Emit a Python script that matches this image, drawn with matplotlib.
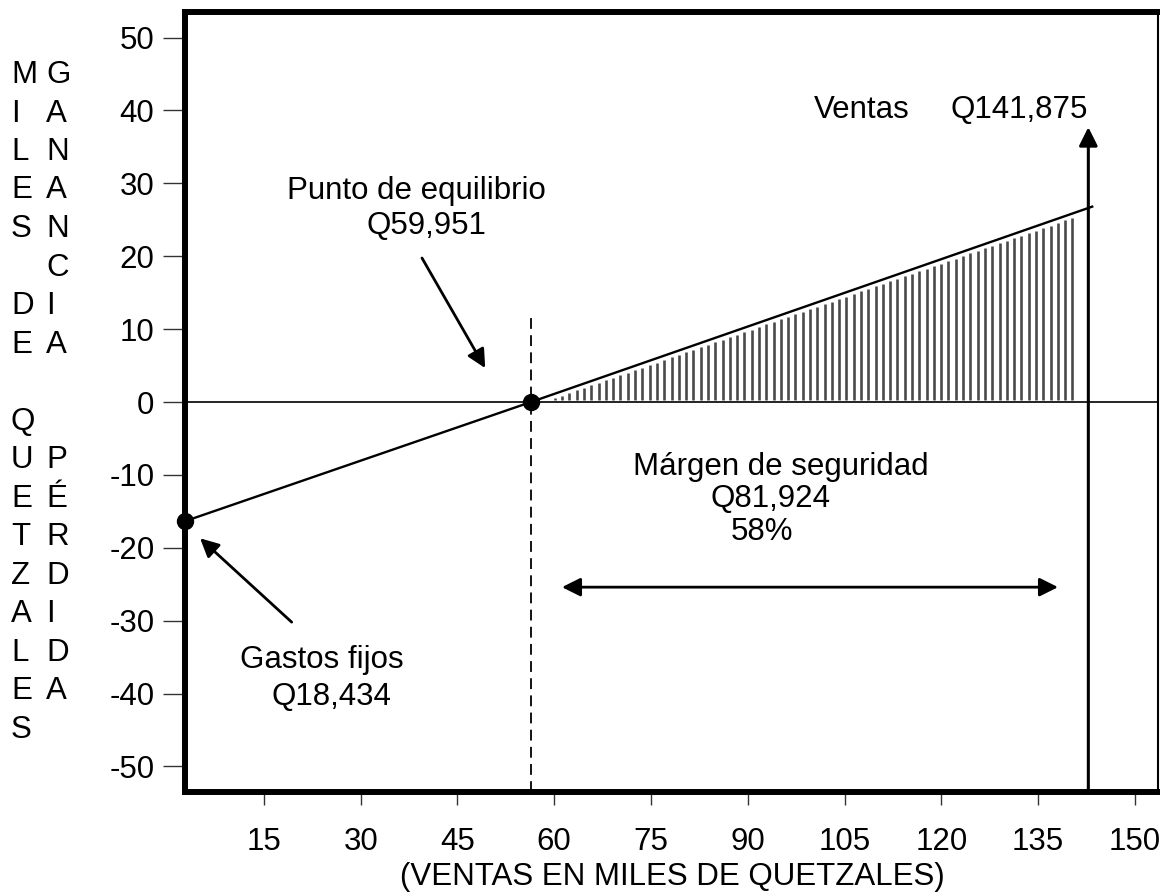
import matplotlib
matplotlib.use("Agg")
import matplotlib.pyplot as plt
import numpy as np

plt.rcParams['font.family'] = ['Liberation Sans', 'DejaVu Sans']

# ticks
x_ticks = [15, 30, 45, 60, 75, 90, 105, 120, 135, 150]
y_ticks = [50, 40, 30, 20, 10, 0, -10, -20, -30, -40, -50]

# profit line (miles de quetzales)
x_min, x_max = 2.76, 153.6
y_min, y_max = -53.5, 53.5
line_x = [2.76, 56.4, 143.4]
line_y = [-16.35, 0.0, 26.8]
fixed_point = (2.76, -16.35)
breakeven_point = (56.4, 0.0)
sales_x = 142.8
sales_arrow_top = 37.7
dash_top = 12.2
margin_arrow = (61.2, 138.1, -25.4)

# annotations
punto_arrow = ((39.5, 19.75), (49.3, 4.65))
gastos_arrow = ((19.3, -30.2), (5.1, -18.7))

left_letters = "MILES DE QUETZALES"
right_letters = "GANANCIA  PÉRDIDA"

W, H = 1160, 896
FS = 22.5


def fpos(px, py):
    return px / W, 1 - py / H


fig = plt.figure(figsize=(W / 100, H / 100), dpi=100)
ax = fig.add_axes([185 / W, 1 - 792 / H, (1158 - 185) / W, (792 - 12) / H])
ax.set_xlim(x_min, x_max)
ax.set_ylim(y_min, y_max)

for side in ['left', 'top', 'bottom']:
    ax.spines[side].set_linewidth(4.3)
ax.spines['right'].set_linewidth(1.5)

ax.set_xticks(x_ticks)
ax.set_xticklabels([str(v) for v in x_ticks])
ax.set_yticks(y_ticks)
ax.set_yticklabels([str(v) for v in y_ticks])
ax.tick_params(axis='y', direction='out', length=16, width=1, color='#333333',
               pad=6, labelsize=FS)
ax.tick_params(axis='x', direction='out', length=9, width=1, color='#333333',
               pad=16, labelsize=FS)

# zero line
ax.axhline(0, color='black', lw=1.2)

# hatched area of profits
slope = (line_y[2] - line_y[1]) / (line_x[2] - line_x[1])
hx = np.arange(60.1, 141.4, 1.13)
htop = slope * (hx - breakeven_point[0]) - 0.6
ax.vlines(hx, 0.3, htop, color='#4a4a4a', lw=1.9)

# profit line
ax.plot(line_x, line_y, color='black', lw=1.7)

# break-even dashed line
ax.plot([breakeven_point[0], breakeven_point[0]], [y_min, dash_top],
        color='black', lw=1.3, ls=(0, (6, 3.5)))

# points
ax.plot(*breakeven_point, 'o', color='black', ms=11.5, clip_on=False, zorder=5)
ax.plot(*fixed_point, 'o', color='black', ms=11.5, clip_on=False, zorder=5)

# sales arrow
ax.annotate('', xy=(sales_x, sales_arrow_top), xytext=(sales_x, y_min),
            arrowprops=dict(arrowstyle='-|>', lw=2.2, color='black',
                            mutation_scale=28, shrinkA=0, shrinkB=0))

# margin double arrow
ax.annotate('', xy=(margin_arrow[1], margin_arrow[2]),
            xytext=(margin_arrow[0], margin_arrow[2]),
            arrowprops=dict(arrowstyle='<|-|>', lw=2, color='black',
                            mutation_scale=28, shrinkA=0, shrinkB=0))

# pointer arrows
for tail, head in [punto_arrow, gastos_arrow]:
    ax.annotate('', xy=head, xytext=tail,
                arrowprops=dict(arrowstyle='-|>', lw=2, color='black',
                                mutation_scale=28, shrinkA=0, shrinkB=0))

# texts
texts = [
    ("Punto de equilibrio", 416, 199, 'center'),
    ("Q59,951", 426, 234, 'center'),
    ("Márgen de seguridad", 781, 475, 'center'),
    ("Q81,924", 770, 507, 'center'),
    ("58%", 762, 540, 'center'),
    ("Gastos fijos", 322, 668, 'center'),
    ("Q18,434", 331, 705, 'center'),
    ("Ventas", 910, 118, 'right'),
    ("Q141,875", 1088, 118, 'right'),
]
for s, px, py, ha in texts:
    fig.text(*fpos(px, py), s, fontsize=FS, ha=ha, va='baseline')

# axis label
fig.text(*fpos(672, 885), "(VENTAS EN MILES DE QUETZALES)", fontsize=FS,
         ha='center', va='baseline')

# vertical stacked y labels
for col_x, letters in [(11, left_letters), (46, right_letters)]:
    for k, ch in enumerate(letters):
        if ch != ' ':
            fig.text(*fpos(col_x, 83 + 38.5 * k), ch, fontsize=FS,
                     ha='left', va='baseline')

fig.savefig('out.png', dpi=100)
